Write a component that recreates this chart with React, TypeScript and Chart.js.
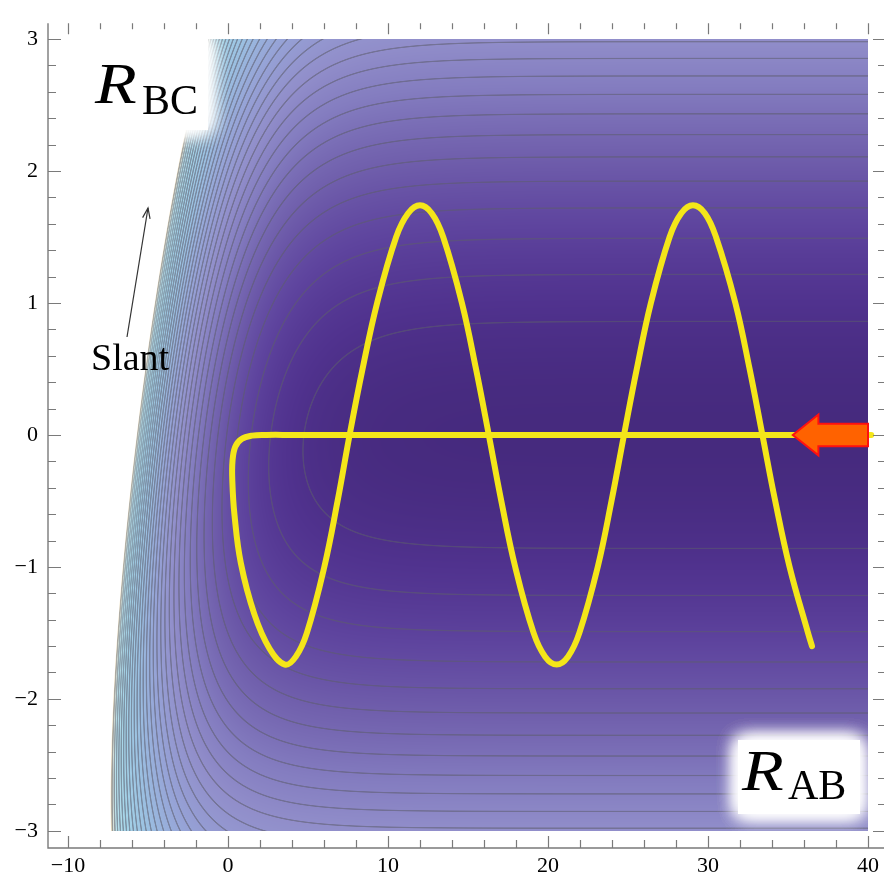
import React, { useEffect, useRef } from 'react';
import { Chart, registerables } from 'chart.js';

Chart.register(...registerables);

// ---------- axes ----------
const X_MIN = -11.25;
const X_MAX = 40;
const Y_MIN = -3.13;
const Y_MAX = 3.12;
const X_MAJOR_TICKS = [-10, 0, 10, 20, 30, 40];
const Y_MAJOR_TICKS = [-3, -2, -1, 0, 1, 2, 3];
const X_MINOR_TICKS = [-8, -6, -4, -2, 2, 4, 6, 8, 12, 14, 16, 18, 22, 24, 26, 28, 32, 34, 36, 38];
const Y_MINOR_TICKS = [-2.8, -2.6, -2.4, -2.2, -1.8, -1.6, -1.4, -1.2, -0.8, -0.6, -0.4, -0.2,
  0.2, 0.4, 0.6, 0.8, 1.2, 1.4, 1.6, 1.8, 2.2, 2.4, 2.6, 2.8];

// ---------- trajectory ----------
const TRAJ_X = [40.2, 30, 20, 10, 4, 2.4, 1.5, 0.85, 0.45, 0.28, 0.27, 0.4, 0.8, 1.65, 2.6, 3.56,
  4.24, 4.93, 6.02, 6.85, 7.6, 8.41, 9.32, 10.51, 11.26, 12.0,
  12.73, 13.45, 14.62, 15.5, 16.3, 17.08, 17.95, 19.1, 19.82, 20.54,
  21.25, 21.96, 23.11, 23.97, 24.75, 25.55, 26.43, 27.6, 28.33, 29.06,
  29.8, 30.5, 31.71, 32.6, 33.4, 34.2, 35.1, 36.25, 36.5];
const TRAJ_Y = [0, 0, 0, 0, 0, 0, -0.005, -0.03, -0.09, -0.2, -0.35, -0.6, -0.97, -1.36, -1.62, -1.74,
  -1.68, -1.5, -1.0, -0.5, 0, 0.5, 1.0, 1.5, 1.68, 1.74,
  1.68, 1.5, 1.0, 0.5, 0, -0.5, -1.0, -1.5, -1.68, -1.74,
  -1.68, -1.5, -1.0, -0.5, 0, 0.5, 1.0, 1.5, 1.68, 1.74,
  1.68, 1.5, 1.0, 0.5, 0, -0.5, -1.0, -1.5, -1.6];

// ---------- potential surface (contour background) ----------
const SURFACE_X_MAX = 40;
const SURFACE_Y_LIMIT = 3;
const WALL_AMP = 3.6;
const WALL_LEN = 3.0;
const WALL_SLANT = 1.0;
const CONTOUR_STEP = 0.74;
const V_CUTOFF = 24.3;
const COLOR_V = [0, 1, 2.5, 4.5, 7, 9, 12, 16, 20, 22.5, 23.6, 24.3];
const COLOR_R = [70, 80, 94, 112, 132, 145, 150, 155, 165, 185, 222, 240];
const COLOR_G = [42, 50, 68, 95, 125, 142, 162, 192, 212, 226, 226, 218];
const COLOR_B = [126, 142, 158, 172, 192, 202, 214, 225, 232, 236, 210, 175];

// ---------- incoming arrow ----------
const ARROW_TIP_X = 35.3;
const ARROW_NECK_X = 36.9;
const ARROW_TAIL_X = 40;
const ARROW_Y = 0;
const ARROW_HEAD_HALF = 0.155;
const ARROW_BODY_HALF = 0.085;

const SERIF = '"Liberation Serif", "Times New Roman", serif';

function fmt(v: number): string {
  return v < 0 ? '\u2212' + Math.abs(v) : String(v);
}

function colorAt(V: number): [number, number, number] {
  if (V <= COLOR_V[0]) return [COLOR_R[0], COLOR_G[0], COLOR_B[0]];
  for (let i = 1; i < COLOR_V.length; i++) {
    if (V <= COLOR_V[i]) {
      const t = (V - COLOR_V[i - 1]) / (COLOR_V[i] - COLOR_V[i - 1]);
      return [
        COLOR_R[i - 1] + t * (COLOR_R[i] - COLOR_R[i - 1]),
        COLOR_G[i - 1] + t * (COLOR_G[i] - COLOR_G[i - 1]),
        COLOR_B[i - 1] + t * (COLOR_B[i] - COLOR_B[i - 1]),
      ];
    }
  }
  const n = COLOR_V.length - 1;
  return [COLOR_R[n], COLOR_G[n], COLOR_B[n]];
}

const surfacePlugin = {
  id: 'surface',
  beforeDatasetsDraw(chart: any) {
    const { ctx, chartArea: a, scales } = chart;
    const xs = scales.x;
    const ys = scales.y;
    const left = Math.floor(a.left);
    const top = Math.floor(a.top);
    const W = Math.ceil(a.right) - left;
    const H = Math.ceil(a.bottom) - top;
    const off = document.createElement('canvas');
    off.width = W;
    off.height = H;
    const octx = off.getContext('2d')!;
    const img = octx.createImageData(W, H);
    const d = img.data;
    const dxdp = (xs.max - xs.min) / (a.right - a.left);
    const dydp = (ys.max - ys.min) / (a.bottom - a.top);
    const kMax = Math.floor(V_CUTOFF / CONTOUR_STEP);
    for (let j = 0; j < H; j++) {
      const yv = ys.getValueForPixel(top + j + 0.5);
      if (Math.abs(yv) > SURFACE_Y_LIMIT) continue;
      for (let i = 0; i < W; i++) {
        const xv = xs.getValueForPixel(left + i + 0.5);
        if (xv > SURFACE_X_MAX) continue;
        const u = xv - WALL_SLANT * yv;
        const w = WALL_AMP * Math.exp(-u / WALL_LEN);
        const V = yv * yv + w;
        const gx = (-w / WALL_LEN) * dxdp;
        const gy = (2 * yv + (w * WALL_SLANT) / WALL_LEN) * dydp;
        const g = Math.hypot(gx, gy) + 1e-9;
        const edge = (V_CUTOFF - V) / g;
        if (edge <= 0) continue;
        const ea = Math.min(1, edge);
        let [r, gg, b] = colorAt(V);
        const f = V / CONTOUR_STEP;
        let k = Math.round(f);
        if (k < 1) k = 1;
        if (k > kMax) k = kMax;
        const gf = g / CONTOUR_STEP;
        const dist = Math.abs(f - k) / gf;
        let la = 1 - (dist - 0.35) / 0.7;
        la = Math.max(0, Math.min(1, la)) * 0.55 * Math.min(1, 0.45 / gf);
        r = r * (1 - la) + 92 * la;
        gg = gg * (1 - la) + 92 * la;
        b = b * (1 - la) + 108 * la;
        const idx = (j * W + i) * 4;
        d[idx] = r;
        d[idx + 1] = gg;
        d[idx + 2] = b;
        d[idx + 3] = 255 * ea;
      }
    }
    octx.putImageData(img, 0, 0);
    ctx.save();
    ctx.drawImage(off, left, top);
    ctx.restore();
  },
};

function glowBox(ctx: CanvasRenderingContext2D, x: number, y: number, w: number, h: number, blur: number) {
  ctx.save();
  ctx.fillStyle = '#ffffff';
  ctx.shadowColor = '#ffffff';
  ctx.shadowBlur = blur;
  for (let i = 0; i < 4; i++) ctx.fillRect(x, y, w, h);
  ctx.restore();
}

function drawR(ctx: CanvasRenderingContext2D, x: number, y: number) {
  ctx.save();
  ctx.translate(x, y);
  ctx.scale(1.22, 1);
  ctx.font = 'italic 56px ' + SERIF;
  ctx.fillText('R', 0, 0);
  ctx.restore();
}

const decorPlugin = {
  id: 'decor',
  afterDatasetsDraw(chart: any) {
    const { ctx, scales } = chart;
    const xs = scales.x;
    const ys = scales.y;
    // incoming arrow
    const tip = xs.getPixelForValue(ARROW_TIP_X);
    const neck = xs.getPixelForValue(ARROW_NECK_X);
    const tail = xs.getPixelForValue(ARROW_TAIL_X);
    const yc = ys.getPixelForValue(ARROW_Y);
    const hh = ys.getPixelForValue(ARROW_Y - ARROW_HEAD_HALF) - yc;
    const bh = ys.getPixelForValue(ARROW_Y - ARROW_BODY_HALF) - yc;
    ctx.save();
    ctx.beginPath();
    ctx.moveTo(tip, yc);
    ctx.lineTo(neck, yc - hh);
    ctx.lineTo(neck, yc - bh);
    ctx.lineTo(tail, yc - bh);
    ctx.lineTo(tail, yc + bh);
    ctx.lineTo(neck, yc + bh);
    ctx.lineTo(neck, yc + hh);
    ctx.closePath();
    ctx.fillStyle = '#ff6200';
    ctx.fill();
    ctx.strokeStyle = '#ff1010';
    ctx.lineWidth = 2;
    ctx.lineJoin = 'miter';
    ctx.stroke();
    ctx.restore();

    // label boxes
    glowBox(ctx, 62, 38, 146, 92, 18);
    glowBox(ctx, 738, 740, 122, 74, 18);

    ctx.save();
    ctx.fillStyle = '#000';
    ctx.textBaseline = 'alphabetic';
    ctx.textAlign = 'left';
    drawR(ctx, 95, 103);
    ctx.font = '42px ' + SERIF;
    ctx.fillText('BC', 142, 114);
    drawR(ctx, 742, 790);
    ctx.font = '42px ' + SERIF;
    ctx.fillText('AB', 788, 799);

    ctx.font = '38px ' + SERIF;
    ctx.fillText('Slant', 91, 370);

    // slant arrow
    const x0 = 127, y0 = 337, x1 = 148, y1 = 208;
    const ang = Math.atan2(y1 - y0, x1 - x0);
    ctx.strokeStyle = '#333';
    ctx.lineWidth = 1.2;
    ctx.beginPath();
    ctx.moveTo(x0, y0);
    ctx.lineTo(x1, y1);
    ctx.stroke();
    ctx.beginPath();
    ctx.moveTo(x1 - 11 * Math.cos(ang - 0.35), y1 - 11 * Math.sin(ang - 0.35));
    ctx.lineTo(x1, y1);
    ctx.lineTo(x1 - 11 * Math.cos(ang + 0.35), y1 - 11 * Math.sin(ang + 0.35));
    ctx.stroke();
    ctx.restore();
  },
  afterDraw(chart: any) {
    const { ctx, chartArea: a, scales } = chart;
    const xs = scales.x;
    const ys = scales.y;
    const frameRight = a.right + 18;
    ctx.save();
    ctx.strokeStyle = '#7a7a7a';
    ctx.lineWidth = 1.4;
    ctx.beginPath();
    ctx.moveTo(a.left, a.top);
    ctx.lineTo(a.left, a.bottom);
    ctx.lineTo(chart.width, a.bottom);
    ctx.stroke();
    ctx.lineWidth = 1.2;
    ctx.beginPath();
    const xt = (v: number, major: boolean) => {
      const p = Math.round(xs.getPixelForValue(v)) + 0.5;
      ctx.moveTo(p, a.bottom);
      ctx.lineTo(p, a.bottom - (major ? 12 : 8));
      ctx.moveTo(p, a.top);
      ctx.lineTo(p, a.top + (major ? 11 : 6));
    };
    const yt = (v: number, major: boolean) => {
      const p = Math.round(ys.getPixelForValue(v)) + 0.5;
      ctx.moveTo(a.left, p);
      ctx.lineTo(a.left + (major ? 13 : 8), p);
      ctx.moveTo(frameRight, p);
      ctx.lineTo(frameRight - (major ? 13 : 8), p);
    };
    X_MAJOR_TICKS.forEach((v) => xt(v, true));
    X_MINOR_TICKS.forEach((v) => xt(v, false));
    Y_MAJOR_TICKS.forEach((v) => yt(v, true));
    Y_MINOR_TICKS.forEach((v) => yt(v, false));
    ctx.stroke();
    ctx.restore();
  },
};

export default function App() {
  const ref = useRef<HTMLCanvasElement | null>(null);
  useEffect(() => {
    if (!ref.current) return;
    const points = TRAJ_X.map((x, i) => ({ x, y: TRAJ_Y[i] }));
    const tickFont = { family: SERIF, size: 22 };
    const chart = new Chart(ref.current, {
      type: 'scatter',
      data: {
        datasets: [
          {
            data: points,
            showLine: true,
            borderColor: '#f4e619',
            borderWidth: 6,
            pointRadius: 0,
            tension: 0.4,
            borderCapStyle: 'round',
            borderJoinStyle: 'round',
            clip: false,
          } as any,
        ],
      },
      options: {
        responsive: false,
        maintainAspectRatio: false,
        animation: false,
        events: [],
        layout: { padding: { top: 13, right: 16, left: 0, bottom: 0 } },
        plugins: { legend: { display: false }, tooltip: { enabled: false } },
        scales: {
          x: {
            type: 'linear',
            min: X_MIN,
            max: X_MAX,
            afterBuildTicks: (s: any) => {
              s.ticks = X_MAJOR_TICKS.map((v) => ({ value: v }));
            },
            afterFit: (s: any) => {
              s.height = 34;
            },
            grid: { display: false, drawTicks: false },
            border: { display: false },
            ticks: {
              autoSkip: false,
              maxRotation: 0,
              padding: 5,
              color: '#000',
              font: tickFont,
              callback: (v: any) => fmt(Number(v)),
            },
          },
          y: {
            type: 'linear',
            min: Y_MIN,
            max: Y_MAX,
            afterBuildTicks: (s: any) => {
              s.ticks = Y_MAJOR_TICKS.map((v) => ({ value: v }));
            },
            afterFit: (s: any) => {
              s.width = 48;
            },
            grid: { display: false, drawTicks: false },
            border: { display: false },
            ticks: {
              autoSkip: false,
              padding: 10,
              color: '#000',
              font: tickFont,
              callback: (v: any) => fmt(Number(v)),
            },
          },
        },
      } as any,
      plugins: [surfacePlugin, decorPlugin],
    });
    return () => chart.destroy();
  }, []);
  return (
    <div style={{ position: 'absolute', left: 0, top: 0, width: 884, height: 882, background: '#fff' }}>
      <canvas ref={ref} width={884} height={882} style={{ display: 'block' }} />
    </div>
  );
}
